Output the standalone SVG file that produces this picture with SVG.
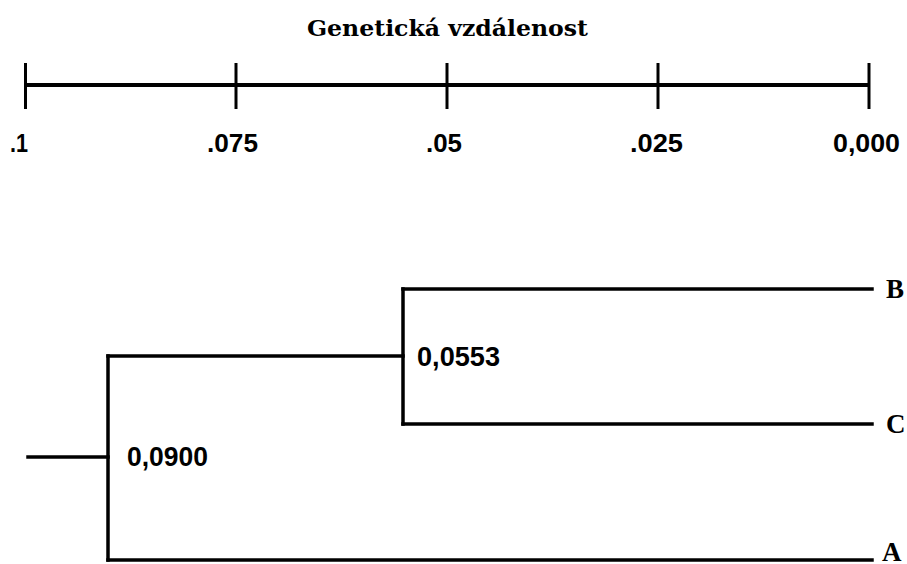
<svg xmlns="http://www.w3.org/2000/svg" width="907" height="564" viewBox="0 0 907 564">
  <style>
    .title { font-family: "DejaVu Serif", "Liberation Serif", serif; font-weight: bold; font-size: 23px; fill: #000; }
    .tick-label { font-family: "Liberation Sans", Arial, sans-serif; font-weight: bold; font-size: 25px; fill: #000; }
    .node-label { font-family: "Liberation Sans", Arial, sans-serif; font-weight: bold; font-size: 27px; fill: #000; }
    .leaf-label { font-family: "Liberation Serif", "Times New Roman", serif; font-weight: bold; font-size: 27px; fill: #000; }
    .axis { stroke: #000; stroke-width: 4; fill: none; }
    .tick { stroke: #000; stroke-width: 3; fill: none; }
    .branch { stroke: #000; stroke-width: 3.5; fill: none; stroke-linecap: square; }
  </style>
  <rect width="907" height="564" fill="#fff"/>

  <!-- distance scale -->
  <g id="scale">
    <text class="title" x="307" y="36" textLength="281" lengthAdjust="spacingAndGlyphs">Genetická vzdálenost</text>
    <line class="axis" x1="25" y1="85" x2="869" y2="85"/>
    <line class="tick" x1="25.5" y1="63" x2="25.5" y2="109"/>
    <line class="tick" x1="236" y1="63" x2="236" y2="109"/>
    <line class="tick" x1="447" y1="63" x2="447" y2="109"/>
    <line class="tick" x1="658" y1="63" x2="658" y2="109"/>
    <line class="tick" x1="869" y1="63" x2="869" y2="109"/>
    <text class="tick-label" x="10" y="152" textLength="18" lengthAdjust="spacingAndGlyphs">.1</text>
    <text class="tick-label" x="207" y="152" textLength="51" lengthAdjust="spacingAndGlyphs">.075</text>
    <text class="tick-label" x="426" y="152" textLength="36" lengthAdjust="spacingAndGlyphs">.05</text>
    <text class="tick-label" x="630" y="152" textLength="53" lengthAdjust="spacingAndGlyphs">.025</text>
    <text class="tick-label" x="833" y="152" textLength="67" lengthAdjust="spacingAndGlyphs">0,000</text>
  </g>

  <!-- tree branches -->
  <g id="connectors">
    <line class="branch" x1="28" y1="457" x2="108" y2="457"/>
    <line class="branch" x1="108" y1="356" x2="108" y2="560"/>
    <line class="branch" x1="108" y1="356" x2="403" y2="356"/>
    <line class="branch" x1="403" y1="289" x2="403" y2="424"/>
    <line class="branch" x1="403" y1="289" x2="872" y2="289"/>
    <line class="branch" x1="403" y1="424" x2="872" y2="424"/>
    <line class="branch" x1="108" y1="560" x2="872" y2="560"/>
  </g>

  <!-- internal nodes -->
  <g id="node-root">
    <text class="node-label" x="127" y="466" textLength="81" lengthAdjust="spacingAndGlyphs">0,0900</text>
  </g>
  <g id="node-bc">
    <text class="node-label" x="417" y="366" textLength="83" lengthAdjust="spacingAndGlyphs">0,0553</text>
  </g>

  <!-- leaves -->
  <g id="leaf-B">
    <text class="leaf-label" x="886" y="298">B</text>
  </g>
  <g id="leaf-C">
    <text class="leaf-label" x="886" y="433">C</text>
  </g>
  <g id="leaf-A">
    <text class="leaf-label" x="882" y="561">A</text>
  </g>
</svg>
